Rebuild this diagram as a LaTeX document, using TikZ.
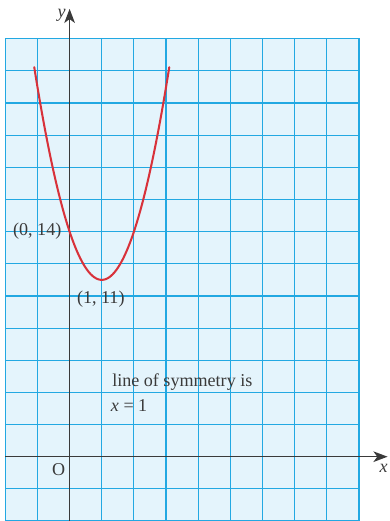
\documentclass[tikz,border=0pt]{standalone}
\usepackage{fontspec}
\setmainfont{Liberation Serif}
\usetikzlibrary{arrows.meta}
\definecolor{gridblue}{HTML}{22A8E2}
\definecolor{paper}{HTML}{E4F4FC}
\definecolor{axisgray}{HTML}{3A3A3A}
\definecolor{curvered}{HTML}{D8313A}
\definecolor{txtgray}{HTML}{3A3A3A}
\tikzset{
  gridline/.style={draw=gridblue, line width=1pt},
  axisline/.style={draw=axisgray, line width=1.3pt, -{Stealth[length=4.4mm, width=3.3mm, inset=1.2mm]}},
  curveline/.style={draw=curvered, line width=1.8pt},
  lbl/.style={inner sep=0pt, text=txtgray, font=\fontsize{16}{21}\selectfont}
}
\begin{document}
\begin{tikzpicture}[x=1cm,y=1cm]
\useasboundingbox (-2.165,-2) rectangle (9.935,14.205);
% paper
\fill[paper] (-2,-2) rectangle (9,13);
\draw[gridline] (-2,-2) grid (9,13);
\draw[gridline] (-2,-2) rectangle (9,13);
% axes
\coordinate (xs) at (-2,0);
\coordinate (xe) at (9.89,0);
\coordinate (ys) at (0,-2);
\coordinate (ye) at (0,13.93);
\draw[axisline] (xs) -- (xe);
\draw[axisline] (ys) -- (ye);
% curve y = 3(x-1)^2+11, vertical scale 2 units per cell
\draw[curveline, line cap=round, domain=-1.1:3.1, samples=80, smooth] plot (\x, {(3*(\x-1)^2+11)/2});
% labels
\node[lbl, anchor=center] (ylab) at (-0.25,13.74) {\itshape y};
\node[lbl, anchor=center] (xlab) at (9.77,-0.35) {\itshape x};
\node[lbl, anchor=center] (orig) at (-0.34,-0.39) {O};
\node[lbl, anchor=east] (p014) at (-0.25,7) {(0, 14)};
\node[lbl, anchor=center] (p111) at (0.97,4.9) {(1, 11)};
\node[lbl, anchor=base west] (sym1) at (1.32,2.18) {line of symmetry is};
\node[lbl, anchor=base west] (sym2) at (1.28,1.42) {{\itshape x} = 1};
\end{tikzpicture}
\end{document}
